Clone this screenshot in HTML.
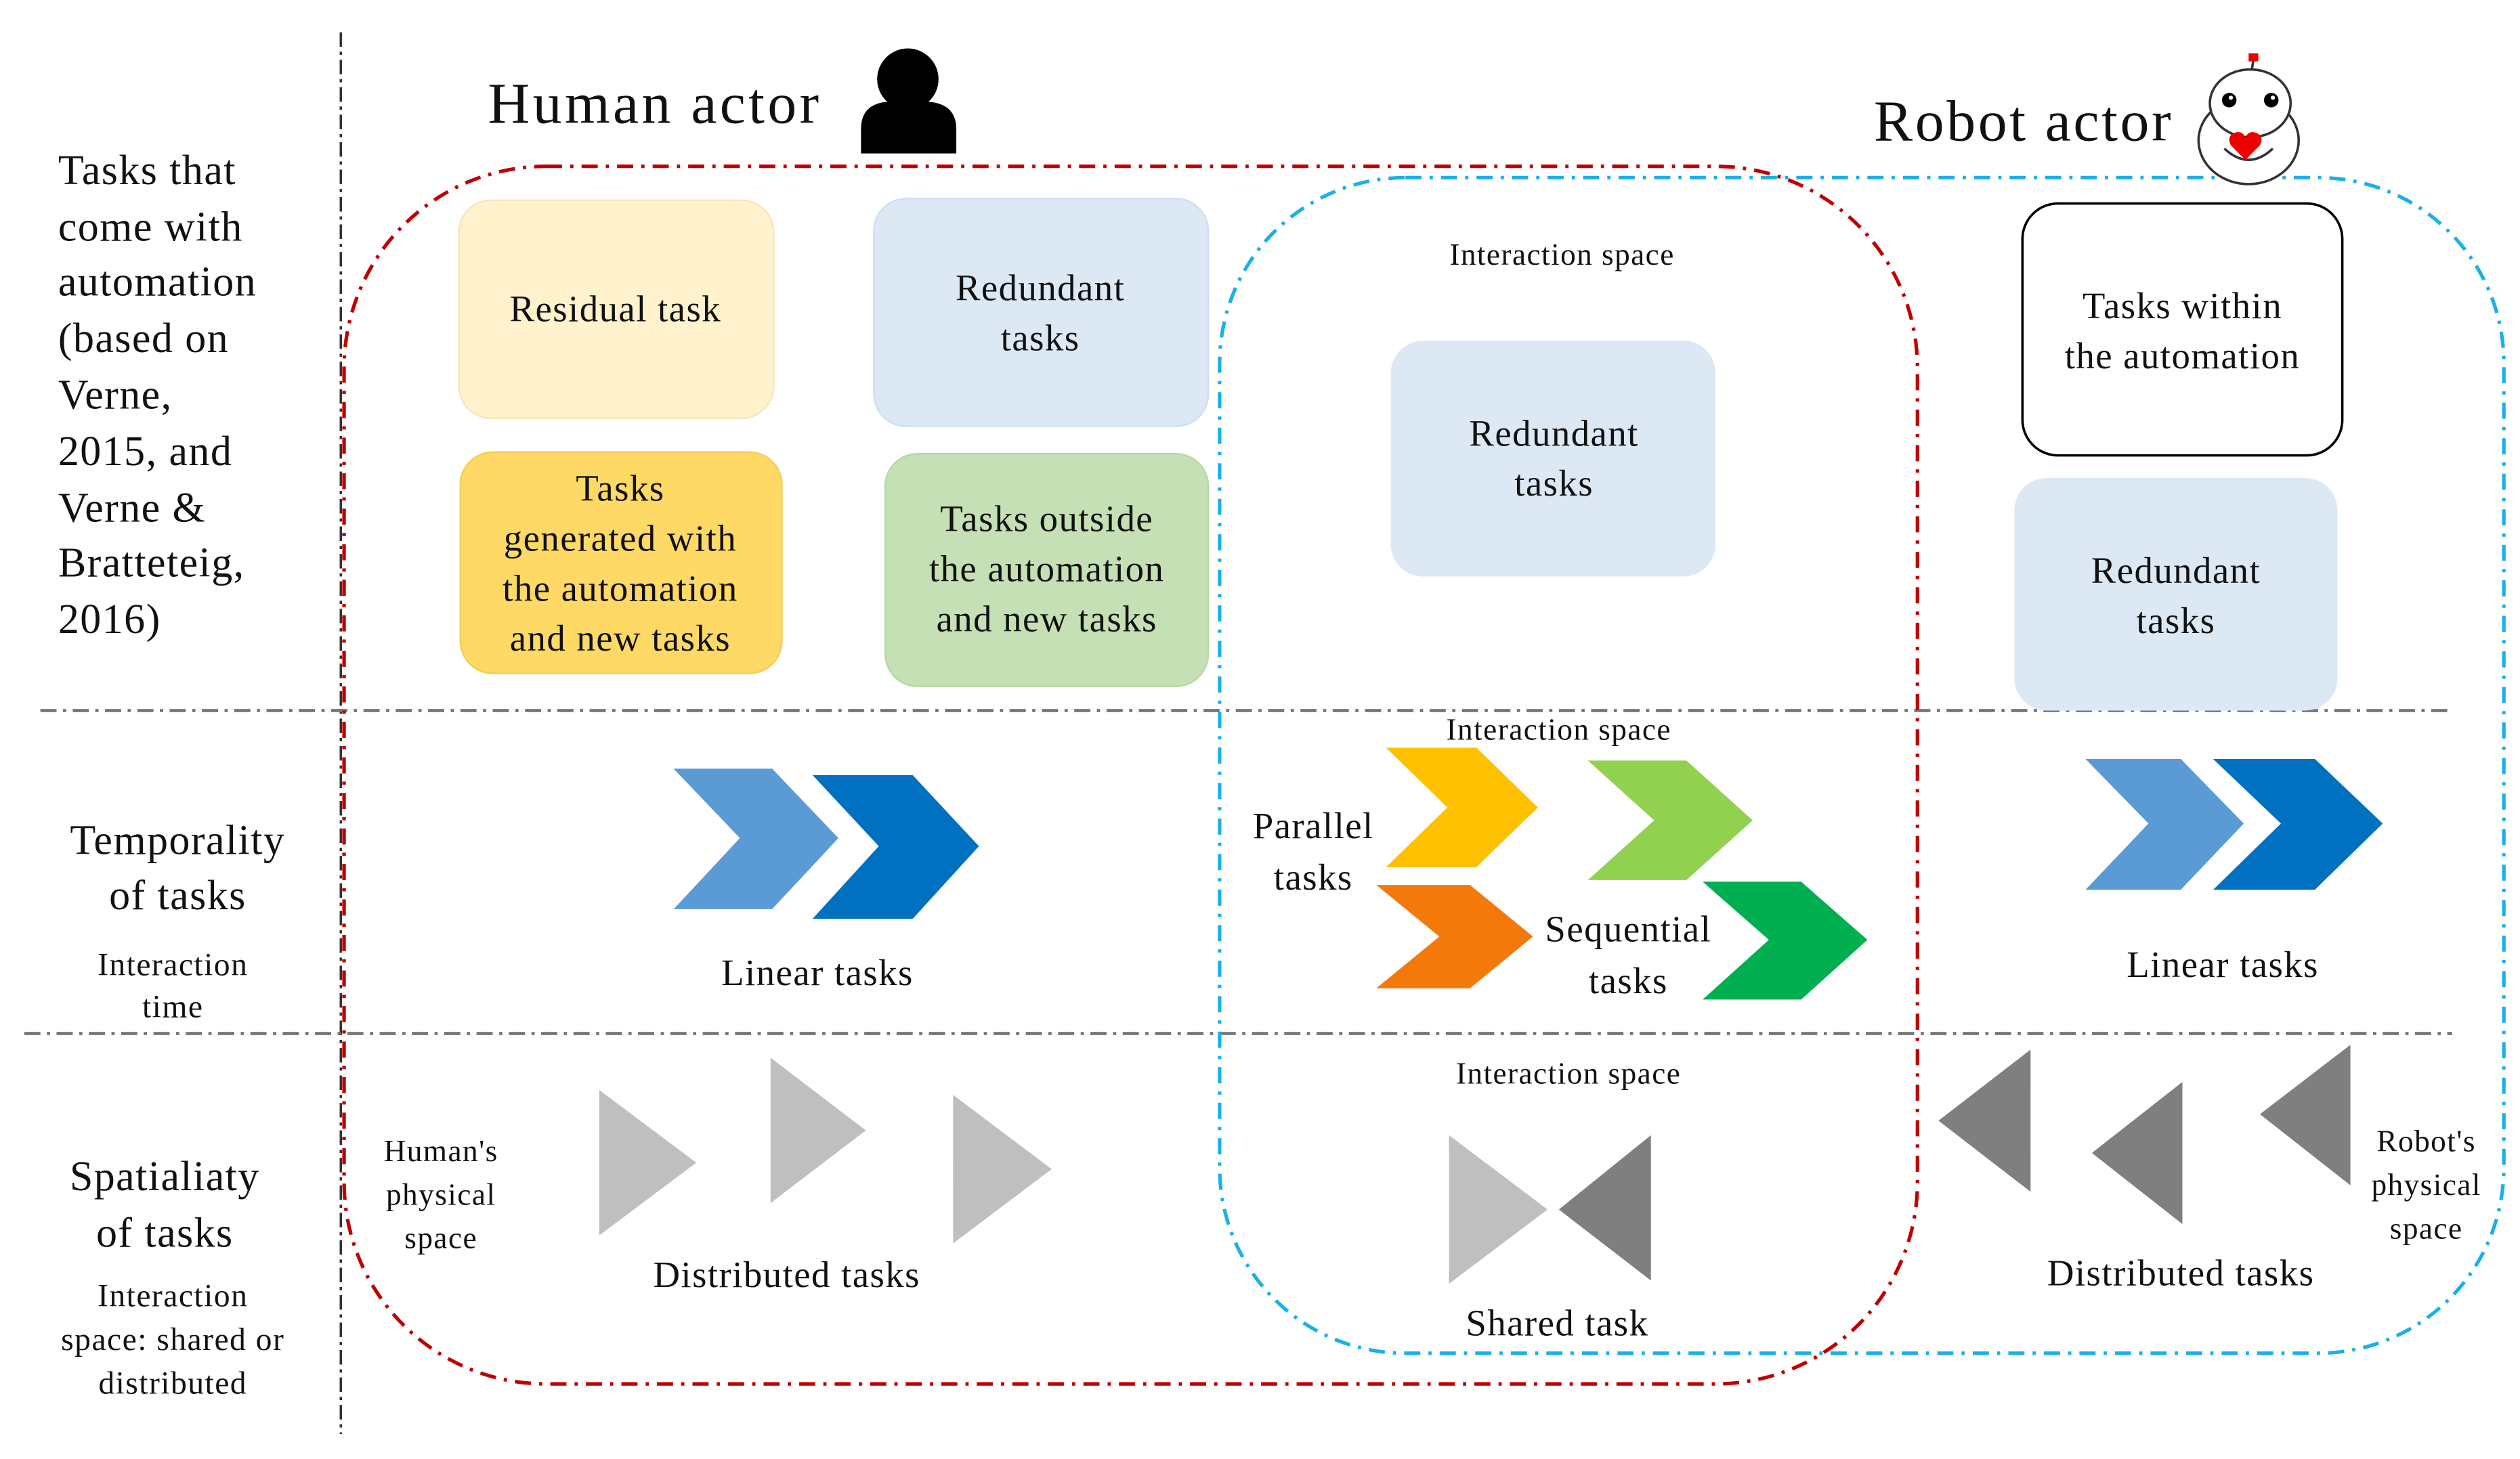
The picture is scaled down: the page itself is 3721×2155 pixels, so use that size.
<!DOCTYPE html>
<html><head><meta charset="utf-8"><style>
html,body{margin:0;padding:0;background:#fff;}
svg{display:block;}
text{font-family:"Liberation Serif",serif;fill:#111;letter-spacing:0.6px;}
</style></head><body>
<svg width="3721" height="2155" viewBox="0 0 1560 903.5" preserveAspectRatio="none" xmlns="http://www.w3.org/2000/svg">
<line x1="211" y1="20" x2="211" y2="888" stroke="#333" stroke-width="1.5" stroke-dasharray="9,3,2,3"/>
<line x1="25" y1="440" x2="1518" y2="440" stroke="#777" stroke-width="2" stroke-dasharray="10,4,2,4"/>
<line x1="15" y1="640" x2="1518" y2="640" stroke="#777" stroke-width="2" stroke-dasharray="10,4,2,4"/>
<rect x="213" y="103" width="974" height="754" rx="125" fill="none" stroke="#c00000" stroke-width="2.2" stroke-dasharray="10,5,2,5"/>
<rect x="755" y="110" width="795" height="728" rx="115" fill="none" stroke="#1ab0e8" stroke-width="2.2" stroke-dasharray="10,5,2,5"/>
<g font-size="26">
<text x="36" y="114">Tasks that</text>
<text x="36" y="149">come with</text>
<text x="36" y="183">automation</text>
<text x="36" y="218">(based on</text>
<text x="36" y="253">Verne,</text>
<text x="36" y="288">2015, and</text>
<text x="36" y="323">Verne &amp;</text>
<text x="36" y="357">Bratteteig,</text>
<text x="36" y="392">2016)</text>
</g>
<g font-size="26" text-anchor="middle">
<text x="110" y="529">Temporality</text>
<text x="110" y="563">of tasks</text>
<text x="102" y="737">Spatialiaty</text>
<text x="102" y="772">of tasks</text>
</g>
<g font-size="20" text-anchor="middle">
<text x="107" y="604">Interaction</text>
<text x="107" y="630">time</text>
<text x="107" y="809">Interaction</text>
<text x="107" y="836">space: shared or</text>
<text x="107" y="863">distributed</text>
</g>
<text x="302" y="76" font-size="36" style="letter-spacing:1.8px">Human actor</text>
<text x="1160" y="87" font-size="36" style="letter-spacing:1.5px">Robot actor</text>
<circle cx="562" cy="49" r="19" fill="#000"/>
<path d="M533,95 L533,80 Q533,64 550,63 L574,63 Q592,64 592,80 L592,95 Z" fill="#000"/>
<g stroke="#333" stroke-width="1.5" fill="#fff">
<ellipse cx="1392" cy="87" rx="31" ry="27"/>
<ellipse cx="1393" cy="64" rx="25" ry="21"/>
<line x1="1394" y1="43" x2="1395" y2="37"/>
<path d="M1377,92 Q1392,106 1407,92" fill="none"/>
</g>
<rect x="1392" y="33" width="6" height="5" fill="#e00"/>
<circle cx="1380" cy="62" r="4.5" fill="#000"/><circle cx="1406" cy="62" r="4.5" fill="#000"/>
<circle cx="1381" cy="60.5" r="1.3" fill="#fff"/><circle cx="1407" cy="60.5" r="1.3" fill="#fff"/>
<path d="M1390,99 L1381,90 Q1378,84 1384,82 Q1389,81 1390,86 Q1391,81 1396,82 Q1402,84 1399,90 Z" fill="#e00"/>
<rect x="284" y="124" width="195" height="135" rx="20" fill="#fff2cc" stroke="#f5e6bb"/>
<rect x="541" y="123" width="207" height="141" rx="20" fill="#dde8f5" stroke="#d0def0"/>
<rect x="285" y="280" width="199" height="137" rx="20" fill="#ffd966" stroke="#f5cc55"/>
<rect x="548" y="281" width="200" height="144" rx="20" fill="#c5e0b4" stroke="#b8d8a5"/>
<rect x="861" y="211" width="201" height="146" rx="20" fill="#dde8f5"/>
<rect x="1252" y="126" width="198" height="156" rx="22" fill="#fff" stroke="#000" stroke-width="1.5"/>
<rect x="1247" y="296" width="200" height="144" rx="20" fill="#dde8f5"/>
<g font-size="23" text-anchor="middle">
<text x="381" y="199">Residual task</text>
<text x="644" y="186">Redundant</text><text x="644" y="217">tasks</text>
<text x="384" y="310">Tasks</text><text x="384" y="341">generated with</text><text x="384" y="372">the automation</text><text x="384" y="403">and new tasks</text>
<text x="648" y="329">Tasks outside</text><text x="648" y="360">the automation</text><text x="648" y="391">and new tasks</text>
<text x="962" y="276">Redundant</text><text x="962" y="307">tasks</text>
<text x="1351" y="197">Tasks within</text><text x="1351" y="228">the automation</text>
<text x="1347" y="361">Redundant</text><text x="1347" y="392">tasks</text>
<text x="506" y="610">Linear tasks</text>
<text x="1376" y="605">Linear tasks</text>
<text x="813" y="519">Parallel</text><text x="813" y="551">tasks</text>
<text x="1008" y="583">Sequential</text><text x="1008" y="615">tasks</text>
<text x="487" y="797">Distributed tasks</text>
<text x="1350" y="796">Distributed tasks</text>
<text x="964" y="827">Shared task</text>
</g>
<g font-size="19" text-anchor="middle">
<text x="967" y="164">Interaction space</text>
<text x="965" y="458">Interaction space</text>
<text x="971" y="671">Interaction space</text>
<text x="273" y="719">Human's</text><text x="273" y="746">physical</text><text x="273" y="773">space</text>
<text x="1502" y="713">Robot's</text><text x="1502" y="740">physical</text><text x="1502" y="767">space</text>
</g>
<polygon points="417,476 478,476 519,519 478,563 417,563 458,519" fill="#5b9bd5"/>
<polygon points="503,480 565,480 606,524 565,569 503,569 544,524" fill="#0070c0"/>
<polygon points="858,463 914,463 952,500 914,537 858,537 896,500" fill="#ffc000"/>
<polygon points="983,471 1044,471 1085,508 1044,545 983,545 1024,508" fill="#92d050"/>
<polygon points="852,548 910,548 949,580 910,612 852,612 891,580" fill="#f4790b"/>
<polygon points="1054,546 1115,546 1156,582 1115,619 1054,619 1095,582" fill="#00b050"/>
<polygon points="1291,470 1350,470 1389,510 1350,551 1291,551 1330,510" fill="#5b9bd5"/>
<polygon points="1370,470 1433,470 1475,510 1433,551 1370,551 1412,510" fill="#0070c0"/>
<g fill="#bfbfbf">
<polygon points="371,675 431,720 371,765"/>
<polygon points="477,655 536,700 477,745"/>
<polygon points="590,678 651,724 590,770"/>
<polygon points="897,703 958,749 897,795"/>
</g>
<g fill="#7f7f7f">
<polygon points="1022,703 965,749 1022,793"/>
<polygon points="1257,650 1200,694 1257,738"/>
<polygon points="1351,670 1295,714 1351,758"/>
<polygon points="1455,647 1399,690 1455,734"/>
</g>
</svg>
</body></html>
